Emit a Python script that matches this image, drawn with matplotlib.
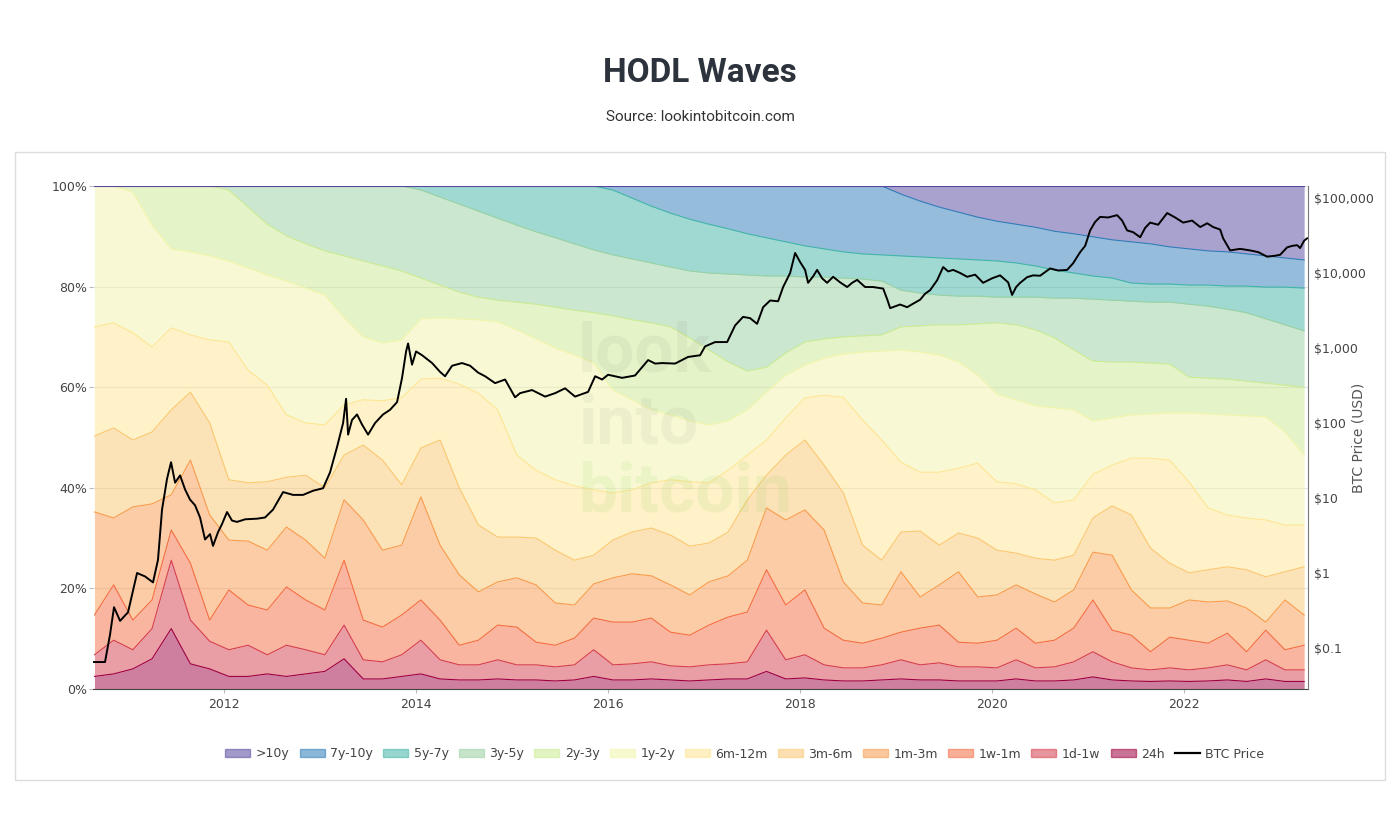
import numpy as np
import matplotlib.pyplot as plt
from matplotlib.patches import Patch, Rectangle
from matplotlib.lines import Line2D

# grid of dates (fractional years) that all wave boundaries share
dates = np.round(2010.65 + 0.2 * np.arange(64), 2)

# cumulative tops of each age band, in % of supply (bottom band first)
top_24h = [2.5, 3.0, 4.0, 6.0, 12.0, 5.0, 4.0, 2.5, 2.5, 3.0,
           2.5, 3.0, 3.5, 6.0, 2.0, 2.0, 2.5, 3.0, 2.0, 1.8,
           1.8, 2.0, 1.8, 1.8, 1.6, 1.8, 2.5, 1.8, 1.8, 2.0,
           1.8, 1.6, 1.8, 2.0, 2.0, 3.5, 2.0, 2.2, 1.8, 1.6,
           1.6, 1.8, 2.0, 1.8, 1.8, 1.6, 1.6, 1.6, 2.0, 1.6,
           1.6, 1.8, 2.4, 1.8, 1.6, 1.5, 1.6, 1.5, 1.6, 1.8,
           1.5, 2.0, 1.5, 1.5]
top_1d1w = [6.8, 9.7, 7.8, 12.0, 25.6, 13.7, 9.5, 7.8, 8.7, 6.8,
            8.7, 7.8, 6.8, 12.7, 5.8, 5.4, 6.8, 9.7, 5.8, 4.8,
            4.8, 5.8, 4.8, 4.8, 4.4, 4.8, 7.8, 4.8, 5.0, 5.4,
            4.6, 4.4, 4.8, 5.0, 5.4, 11.7, 5.8, 6.8, 4.8, 4.2,
            4.2, 4.8, 5.8, 4.8, 5.2, 4.4, 4.4, 4.2, 5.8, 4.2,
            4.4, 5.4, 7.4, 5.4, 4.2, 3.8, 4.2, 3.8, 4.2, 4.8,
            3.8, 5.8, 3.8, 3.8]
top_1w1m = [14.7, 20.7, 13.7, 17.7, 31.6, 25.0, 13.7, 19.7, 16.7, 15.7,
            20.3, 17.7, 15.7, 25.6, 13.7, 12.3, 14.7, 17.7, 13.7, 8.7,
            9.7, 12.7, 12.3, 9.3, 8.7, 10.1, 14.1, 13.3, 13.3, 14.1,
            11.3, 10.7, 12.7, 14.3, 15.3, 23.7, 16.7, 19.7, 12.1, 9.7,
            9.1, 10.1, 11.3, 12.1, 12.7, 9.3, 9.1, 9.7, 12.1, 9.1,
            9.7, 12.1, 17.7, 11.7, 10.7, 7.4, 10.3, 9.7, 9.1, 11.1,
            7.4, 11.7, 7.8, 8.7]
top_1m3m = [35.2, 34.0, 36.2, 36.8, 38.6, 45.5, 34.6, 29.6, 29.4, 27.6,
            32.2, 29.6, 26.0, 37.6, 33.6, 27.6, 28.6, 38.2, 28.6, 22.7,
            19.3, 21.3, 22.1, 20.7, 17.1, 16.7, 20.9, 22.1, 22.9, 22.5,
            20.7, 18.7, 21.3, 22.5, 25.6, 36.0, 33.6, 35.6, 31.6, 21.3,
            17.1, 16.7, 23.3, 18.3, 20.7, 23.3, 18.3, 18.7, 20.7, 18.9,
            17.3, 19.7, 27.2, 26.6, 19.7, 16.1, 16.1, 17.7, 17.3, 17.5,
            16.1, 13.3, 17.7, 14.7]
top_3m6m = [50.3, 51.9, 49.5, 51.1, 55.5, 59.0, 52.9, 41.6, 41.0, 41.2,
            42.1, 42.5, 40.0, 46.5, 48.5, 45.5, 40.6, 47.9, 49.5, 40.0,
            32.6, 30.2, 30.2, 30.0, 27.6, 25.6, 26.6, 29.6, 31.2, 32.0,
            30.6, 28.4, 29.0, 31.2, 37.6, 42.5, 46.5, 49.5, 44.5, 39.0,
            28.6, 25.6, 31.2, 31.4, 28.6, 31.0, 30.0, 27.6, 27.0, 26.0,
            25.6, 26.6, 34.0, 36.4, 34.6, 28.0, 25.0, 23.1, 23.7, 24.3,
            23.7, 22.3, 23.3, 24.3]
top_6m12m = [72.0, 72.8, 70.8, 68.0, 71.8, 70.4, 69.4, 69.0, 63.4, 60.4,
             54.5, 52.9, 52.5, 56.5, 57.5, 57.3, 57.9, 61.6, 61.8, 60.6,
             58.8, 55.5, 46.5, 43.5, 41.6, 40.4, 39.6, 39.0, 39.6, 41.0,
             41.6, 41.2, 41.0, 43.5, 46.5, 49.5, 53.9, 57.9, 58.4, 58.0,
             53.5, 49.5, 45.1, 43.1, 43.1, 43.9, 44.9, 41.2, 40.8, 39.6,
             37.0, 37.6, 42.7, 44.5, 45.9, 45.9, 45.5, 41.2, 36.0, 34.6,
             34.0, 33.6, 32.6, 32.6]
top_1y2y = [100, 100, 98.8, 92.2, 87.5, 86.9, 86.1, 85.1, 83.7, 82.3,
            81.1, 79.7, 78.3, 73.8, 70.0, 68.8, 69.4, 73.6, 73.8, 73.6,
            73.4, 73.0, 71.4, 69.6, 67.8, 66.4, 64.8, 59.4, 57.5, 55.5,
            54.5, 53.3, 52.5, 53.3, 55.5, 59.0, 62.4, 64.4, 65.8, 66.6,
            67.0, 67.2, 67.4, 67.0, 66.4, 65.0, 62.4, 58.6, 57.5, 56.3,
            55.9, 55.5, 53.3, 53.9, 54.5, 54.7, 54.9, 54.9, 54.7, 54.5,
            54.3, 54.1, 51.1, 46.5]
top_2y3y = [100] * 7 + [
            99.2, 95.8, 92.4,
            90.1, 88.5, 87.1, 86.1, 85.1, 84.1, 83.1, 81.7, 80.3, 78.9,
            77.9, 77.3, 76.9, 76.5, 75.9, 75.3, 74.8, 74.2, 73.4, 72.8,
            72.0, 69.8, 67.4, 65.0, 63.2, 64.0, 66.8, 69.0, 69.6, 70.0,
            70.2, 70.4, 72.0, 72.2, 72.4, 72.4, 72.6, 72.8, 72.4, 71.4,
            69.8, 67.4, 65.2, 65.0, 65.0, 64.8, 64.6, 62.0, 61.8, 61.6,
            61.2, 60.8, 60.4, 60.0]
top_3y5y = [100] * 17 + [
            99.2, 97.8, 96.4,
            95.0, 93.6, 92.2, 90.9, 89.7, 88.5, 87.3, 86.3, 85.5, 84.7,
            83.9, 83.1, 82.7, 82.5, 82.3, 82.1, 82.1, 81.9, 81.9, 81.7,
            81.5, 81.1, 79.3, 78.7, 78.3, 78.1, 78.1, 77.9, 77.9, 77.9,
            77.7, 77.7, 77.5, 77.3, 77.1, 76.9, 76.9, 76.5, 76.1, 75.5,
            74.8, 73.6, 72.4, 71.2]
top_5y7y = [100] * 27 + [
            99.2, 97.6, 96.0,
            94.6, 93.4, 92.4, 91.5, 90.5, 89.7, 88.9, 88.1, 87.5, 86.9,
            86.5, 86.3, 86.1, 85.9, 85.7, 85.5, 85.3, 85.1, 84.7, 84.1,
            83.3, 82.7, 82.1, 81.7, 80.7, 80.5, 80.5, 80.3, 80.3, 80.1,
            80.1, 79.9, 79.9, 79.7]
top_7y10y = [100] * 42 + [
             98.4, 97.0, 95.8, 94.8, 93.8, 93.0, 92.4, 91.8,
             91.0, 90.5, 89.9, 89.3, 88.9, 88.5, 87.9, 87.5, 87.1, 86.9,
             86.5, 86.1, 85.7, 85.3]
top_10y = [100] * 64

band_names = ['24h', '1d-1w', '1w-1m', '1m-3m', '3m-6m', '6m-12m',
              '1y-2y', '2y-3y', '3y-5y', '5y-7y', '7y-10y', '>10y']
band_tops = [top_24h, top_1d1w, top_1w1m, top_1m3m, top_3m6m, top_6m12m,
             top_1y2y, top_2y3y, top_3y5y, top_5y7y, top_7y10y, top_10y]
band_colors = ['#9e0142', '#d53e4f', '#f46d43', '#f99b4d', '#fbc771', '#ffe593',
               '#f2f5aa', '#cceb92', '#99d1a1', '#41b5a7', '#2d7db9', '#57479f']

# BTC price (USD)
price_dates = [2010.635, 2010.760, 2010.812, 2010.854, 2010.917, 2011.000, 2011.094,
               2011.177, 2011.260, 2011.312, 2011.354, 2011.406, 2011.448, 2011.490,
               2011.542, 2011.594, 2011.646, 2011.698, 2011.750, 2011.802, 2011.854,
               2011.885, 2011.937, 2011.979, 2012.031, 2012.083, 2012.135, 2012.219,
               2012.344, 2012.427, 2012.510, 2012.615, 2012.719, 2012.823, 2012.927,
               2013.031, 2013.104, 2013.177, 2013.240, 2013.271, 2013.292, 2013.333,
               2013.385, 2013.438, 2013.500, 2013.573, 2013.656, 2013.729, 2013.802,
               2013.854, 2013.896, 2013.917, 2013.958, 2014.000, 2014.063, 2014.167,
               2014.250, 2014.302, 2014.375, 2014.479, 2014.563, 2014.646, 2014.719,
               2014.823, 2014.927, 2015.031, 2015.083, 2015.208, 2015.344, 2015.448,
               2015.552, 2015.656, 2015.792, 2015.865, 2015.938, 2016.000, 2016.146,
               2016.281, 2016.417, 2016.490, 2016.563, 2016.698, 2016.833, 2016.958,
               2017.010, 2017.115, 2017.240, 2017.323, 2017.406, 2017.479, 2017.552,
               2017.615, 2017.688, 2017.771, 2017.823, 2017.896, 2017.948, 2018.000,
               2018.052, 2018.083, 2018.135, 2018.177, 2018.229, 2018.281, 2018.344,
               2018.417, 2018.490, 2018.542, 2018.594, 2018.677, 2018.760, 2018.865,
               2018.906, 2018.938, 2019.042, 2019.115, 2019.177, 2019.250, 2019.302,
               2019.354, 2019.427, 2019.490, 2019.542, 2019.594, 2019.667, 2019.740,
               2019.823, 2019.906, 2020.000, 2020.083, 2020.167, 2020.208, 2020.250,
               2020.292, 2020.365, 2020.427, 2020.500, 2020.604, 2020.688, 2020.781,
               2020.844, 2020.917, 2020.969, 2021.021, 2021.073, 2021.125, 2021.208,
               2021.302, 2021.354, 2021.406, 2021.469, 2021.542, 2021.594, 2021.646,
               2021.729, 2021.823, 2021.906, 2021.990, 2022.083, 2022.167, 2022.240,
               2022.302, 2022.375, 2022.406, 2022.479, 2022.583, 2022.688, 2022.771,
               2022.865, 2022.948, 2023.000, 2023.073, 2023.125, 2023.177, 2023.208,
               2023.250, 2023.281]
price_usd = [0.065, 0.065, 0.15, 0.35, 0.23, 0.3, 1.0,
             0.9, 0.75, 1.5, 7, 18, 30, 16,
             20, 13, 9.5, 8, 5.5, 2.8, 3.3,
             2.3, 3.5, 4.5, 6.5, 5.0, 4.8, 5.2,
             5.3, 5.5, 7, 12, 11, 11, 12.5,
             13.5, 22, 48, 100, 210, 70, 110,
             130, 95, 70, 100, 130, 150, 190,
             400, 900, 1150, 600, 900, 800, 630,
             480, 420, 580, 630, 580, 470, 420,
             340, 380, 220, 250, 275, 225, 250,
             290, 225, 260, 420, 380, 440, 400,
             430, 690, 620, 630, 620, 760, 800,
             1050, 1200, 1200, 2000, 2600, 2500, 2100,
             3500, 4300, 4200, 6500, 10000, 18500, 14000,
             11000, 7400, 9000, 11000, 8500, 7400, 8900,
             7500, 6500, 7400, 8100, 6500, 6500, 6200,
             4500, 3400, 3800, 3500, 3900, 4400, 5300,
             5900, 8000, 12000, 10500, 11000, 10000, 8900,
             9500, 7400, 8500, 9300, 7500, 5100, 6500,
             7400, 8800, 9300, 9200, 11500, 10800, 11000,
             13500, 19000, 23000, 37000, 48000, 56000, 55000,
             59000, 50000, 37000, 35000, 30000, 40000, 47000,
             44000, 63000, 55000, 47000, 50000, 41000, 46000,
             41000, 38000, 29000, 20000, 21000, 20000, 19000,
             16500, 17000, 17500, 22000, 23000, 23500, 21500,
             27000, 29000]

W, H = 1400, 827
fig = plt.figure(figsize=(W / 100, H / 100), dpi=100)

# outer frame
fig.add_artist(Rectangle((15 / W, 1 - 780 / H), 1370 / W, 628 / H,
                         transform=fig.transFigure, fill=False,
                         ec='#dcdcdc', lw=1))

fig.text(0.5, 1 - 73 / H, 'HODL Waves', ha='center', va='center',
         fontsize=24, fontweight='bold', family='Roboto', color='#2d333c')
fig.text(0.5, 1 - 117 / H, 'Source: lookintobitcoin.com', ha='center',
         va='center', fontsize=11, family='Roboto', color='#333333')

ax = fig.add_axes([93 / W, 1 - 689 / H, (1308 - 93) / W, (689 - 186) / H])

lower = np.zeros(len(dates))
for name, top, col in zip(band_names, band_tops, band_colors):
    top = np.array(top, dtype=float)
    ax.fill_between(dates, lower, top, color=col, alpha=0.5, lw=0, zorder=2)
    lower = top
for name, top, col in zip(band_names, band_tops, band_colors):
    ax.plot(dates, top, color=col, lw=0.8, zorder=3)

ax.set_xlim(2010.635, 2023.29)
ax.set_ylim(0, 100)
ax.set_yticks([0, 20, 40, 60, 80, 100])
ax.set_yticklabels(['0%', '20%', '40%', '60%', '80%', '100%'])
ax.set_xticks([2012, 2014, 2016, 2018, 2020, 2022])
ax.set_xticklabels(['2012', '2014', '2016', '2018', '2020', '2022'])
ax.yaxis.grid(True, color='#e4e4e4', lw=0.8)
ax.set_axisbelow(True)
ax.tick_params(axis='both', labelsize=9, colors='#444444', length=3,
               color='#bbbbbb')
ax.tick_params(axis='y', pad=1)
for s in ['left', 'top', 'right']:
    ax.spines[s].set_visible(False)
ax.spines['bottom'].set_color('#444444')

# watermark
wm = dict(transform=fig.transFigure, fontsize=50, fontweight='bold',
          family='Roboto', va='baseline', ha='left', zorder=5)
ax.text(578 / W, 1 - 372 / H, 'look', color='#707070', alpha=0.08, **wm)
ax.text(578 / W, 1 - 443 / H, 'into', color='#707070', alpha=0.08, **wm)
ax.text(578 / W, 1 - 512 / H, 'bitcoin', color='#9fd86b', alpha=0.14, **wm)

ax2 = ax.twinx()
ax2.plot(price_dates, price_usd, color='black', lw=1.4, zorder=6)
ax2.set_yscale('log')
ax2.set_ylim(0.02841, 144544)
ax2.set_yticks([0.1, 1, 10, 100, 1000, 10000, 100000])
ax2.set_yticklabels(['$0.1', '$1', '$10', '$100', '$1,000', '$10,000', '$100,000'])
ax2.minorticks_off()
ax2.tick_params(axis='y', labelsize=9, colors='#444444', length=0, pad=4)
ax2.set_ylabel('BTC Price (USD)', fontsize=10, color='#555555')
ax2.yaxis.set_label_coords(1.036, 0.5)
for s in ['left', 'top', 'bottom']:
    ax2.spines[s].set_visible(False)
ax2.spines['right'].set_color('#777777')
ax2.set_xlim(2010.635, 2023.29)

handles = []
labels = []
for name, col in zip(band_names[::-1], band_colors[::-1]):
    handles.append(Patch(facecolor=col, alpha=0.55, edgecolor=col, lw=1))
    labels.append(name)
handles.append(Line2D([], [], color='black', lw=1.6))
labels.append('BTC Price')
fig.legend(handles, labels, loc='center', bbox_to_anchor=(0.532, 1 - 754 / H),
           ncol=13, frameon=False, fontsize=9, handlelength=2.0,
           handleheight=0.6, columnspacing=0.8, handletextpad=0.45,
           labelcolor='#444444')

fig.savefig('out.png', dpi=100)
